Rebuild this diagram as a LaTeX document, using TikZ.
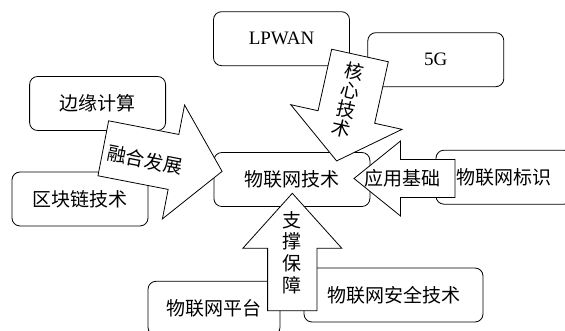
\documentclass[tikz,border=0pt]{standalone}
\usepackage{fontspec}
\setmainfont{Liberation Serif}
\newfontfamily\cjk{Noto Sans CJK SC}

\begin{document}
\begin{tikzpicture}[x=1pt,y=1pt,line width=0.8pt,
  box/.style={draw,rounded corners=8pt,fill=white,inner sep=0pt,minimum width=136pt,minimum height=54pt,font=\cjk\fontsize{19}{19}\selectfont},
  latin/.style={font=\fontsize{19}{19}\selectfont},
  arrowbody/.style={draw,fill=white},
  arrowtext/.style={inner sep=0pt,align=center,font=\cjk\fontsize{19}{19.5}\selectfont}]
  \useasboundingbox (0,0) rectangle (565,331);
  \clip (0,0) rectangle (565,331);
  % boxes
  \node[box,latin] (lpwan) at (281.5,292.3) {LPWAN};
  \node[box,latin] (fiveg) at (435.8,271.3) {5G};
  \node[box] (edge) at (97.6,227.5) {边缘计算};
  \node[box] (chain) at (80,132) {区块链技术};
  \node[box,minimum width=156pt] (iot) at (291.9,151.5) {物联网技术};
  \node[box] (ident) at (504,153.8) {物联网标识};
  \node[box,minimum width=132pt] (platform) at (214,22.7) {物联网平台};
  \node[box,minimum width=179pt] (security) at (393.5,36) {物联网安全技术};
  % block arrows
  \begin{scope}[shift={(103.3,182.7)},rotate=-11]
    \draw[arrowbody] (0,28) -- (71.5,28) -- (71.5,58) -- (121,0) -- (71.5,-58) -- (71.5,-28) -- (0,-28) -- cycle;
    \node[arrowtext,rotate=-11] (fuse) at (43,-3.6) {融合发展};
  \end{scope}
  \begin{scope}[shift={(360,275.5)},rotate=-102.5]
    \draw[arrowbody] (0,29) -- (63,29) -- (63,57) -- (108,0) -- (63,-57) -- (63,-29) -- (0,-29) -- cycle;
    \node[arrowtext,rotate=-12.5] (core) at (46,-2) {核\\心\\技\\术};
  \end{scope}
  \begin{scope}[shift={(455,152.5)},rotate=180]
    \draw[arrowbody] (0,19) -- (54.5,19) -- (54.5,37.5) -- (101,0) -- (54.5,-37.5) -- (54.5,-19) -- (0,-19) -- cycle;
    \node[arrowtext] (base) at (52.5,0) {应用基础};
  \end{scope}
  \begin{scope}[shift={(292.3,20.3)},rotate=90]
    \draw[arrowbody] (0,24.7) -- (62.4,24.7) -- (62.4,49.5) -- (117.4,0) -- (62.4,-49.5) -- (62.4,-24.7) -- (0,-24.7) -- cycle;
    \node[arrowtext,font=\cjk\fontsize{19}{21.7}\selectfont] (support) at (58.2,0) {支\\撑\\保\\障};
  \end{scope}
\end{tikzpicture}
\end{document}
